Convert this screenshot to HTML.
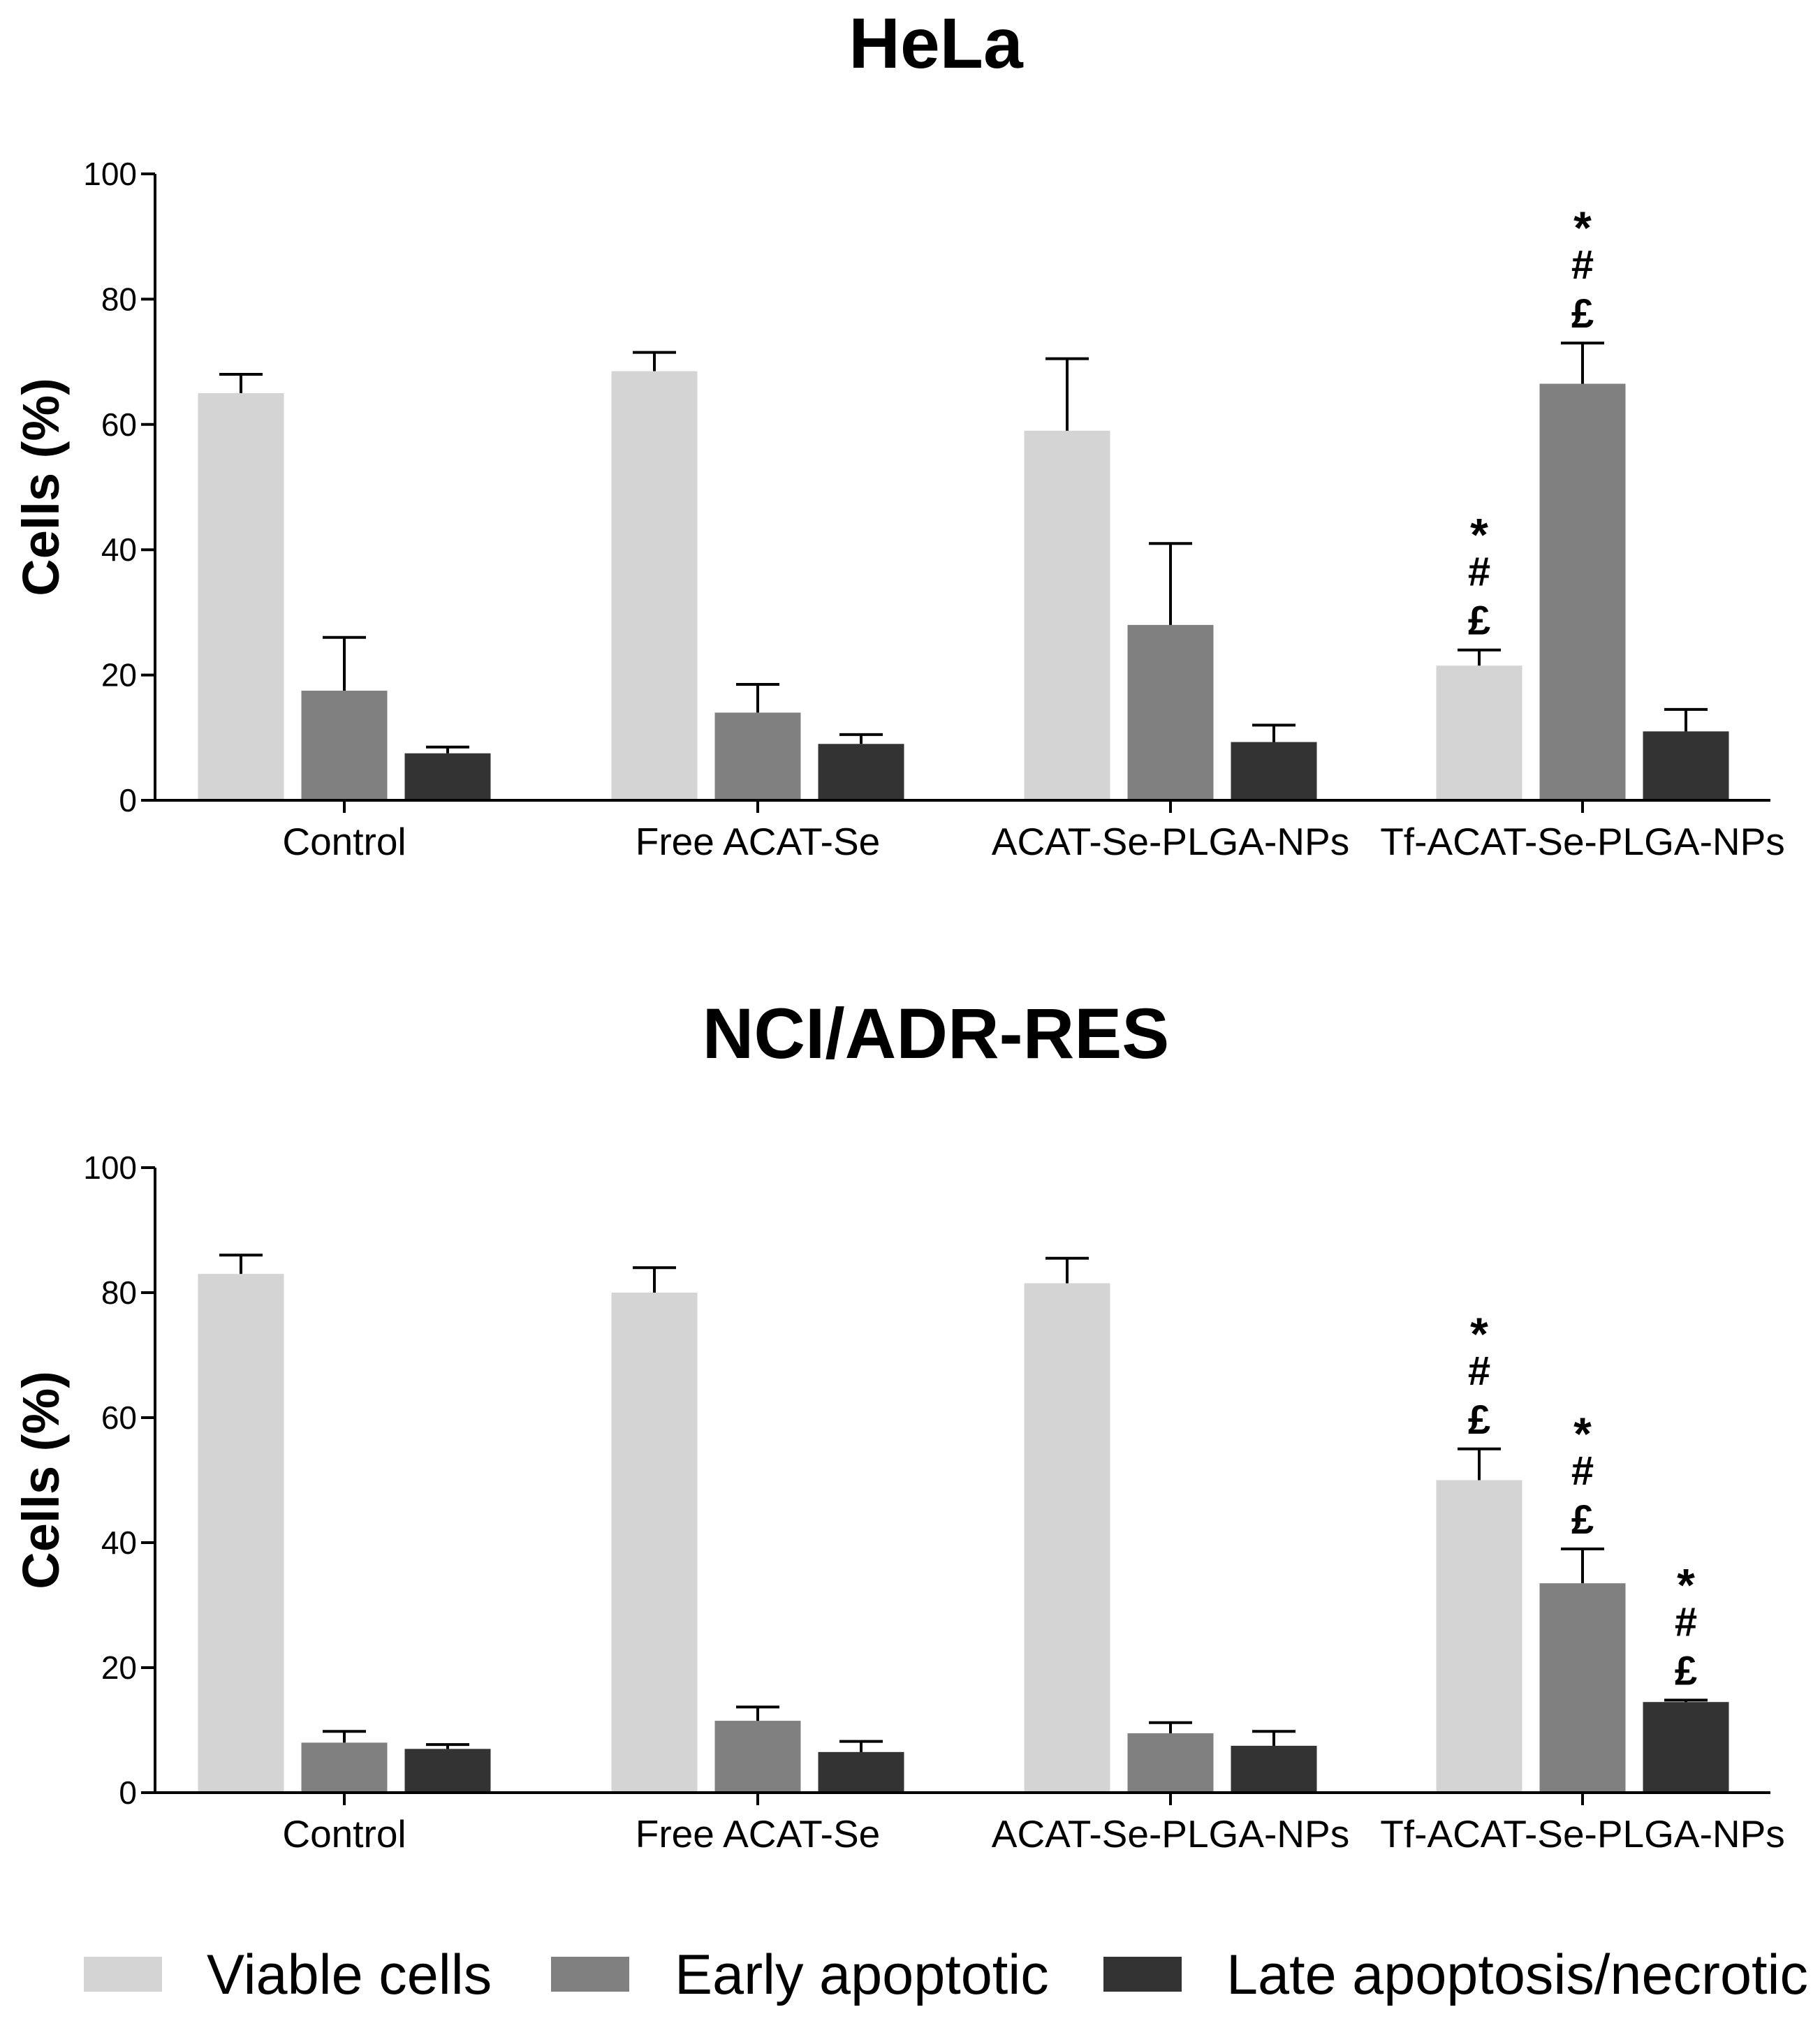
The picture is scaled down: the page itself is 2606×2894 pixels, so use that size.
<!DOCTYPE html>
<html><head><meta charset="utf-8"><style>html,body{margin:0;padding:0;background:#fff}svg{display:block}text{font-family:"Liberation Sans",Arial,sans-serif}</style></head>
<body>
<svg id="fig" width="2606" height="2894" viewBox="0 0 2606 2894" xmlns="http://www.w3.org/2000/svg"></svg>
<script>
const categories = ["Control","Free ACAT-Se","ACAT-Se-PLGA-NPs","Tf-ACAT-Se-PLGA-NPs"];
const seriesNames = ["Viable cells","Early apoptotic","Late apoptosis/necrotic"];
const yTicks = [0,20,40,60,80,100];
// HeLa
const helaViable = [65,68.5,59,21.5];
const helaViableErr = [3,3,11.5,2.5];
const helaEarly = [17.5,14,28,66.5];
const helaEarlyErr = [8.5,4.5,13,6.5];
const helaLate = [7.5,9,9.3,11];
const helaLateErr = [1,1.5,2.7,3.5];
const helaSig = [[0,0,0],[0,0,0],[0,0,0],[1,1,0]];
// NCI/ADR-RES
const nciViable = [83,80,81.5,50];
const nciViableErr = [3,4,4,5];
const nciEarly = [8,11.5,9.5,33.5];
const nciEarlyErr = [1.8,2.2,1.7,5.5];
const nciLate = [7,6.5,7.5,14.5];
const nciLateErr = [0.7,1.7,2.3,0.3];
const nciSig = [[0,0,0],[0,0,0],[0,0,0],[1,1,1]];

const colors = ["#d4d4d4","#808080","#333333"];
const NS = "http://www.w3.org/2000/svg";
const svg = document.getElementById("fig");
function mk(tag, attrs, parent, txt){
  const e = document.createElementNS(NS, tag);
  for (const k in attrs) e.setAttribute(k, attrs[k]);
  if (txt !== undefined) e.textContent = txt;
  (parent||svg).appendChild(e);
  return e;
}
const axL = 222, axR = 2535;
const groupX = [493,1085,1676,2266];
const barW = 123, offs = [-148,0,148];

function drawChart(id, title, titleY, yTop, yBot, vals, errs, sig, labelY){
  const g = mk("g",{});
  
  
  const yS = v => yBot - (v/100)*(yBot-yTop);
  const t = mk("text",{x:1340,y:titleY,"text-anchor":"middle","font-size":102,"font-weight":"bold",fill:"#000"},g,title);
  
  
  const yt = mk("text",{transform:`translate(84,${(yTop+yBot)/2}) rotate(-90)`,"text-anchor":"middle","font-size":74,"font-weight":"bold",fill:"#000"},g,"Cells (%)");
  
  
  yTicks.forEach(v=>{
    const y = yS(v);
    const tk = mk("line",{x1:axL-20,x2:axL,y1:y,y2:y,stroke:"#000","stroke-width":4},g);
    
    
    const tl = mk("text",{x:axL-26,y:y+16,"text-anchor":"end","font-size":46,fill:"#000"},g,String(v));
    
    
  });
  categories.forEach((c,i)=>{
    for(let s=0;s<3;s++){
      const cx = groupX[i]+offs[s];
      const v = vals[s][i], e = errs[s][i];
      const r = mk("rect",{x:cx-barW/2,y:yS(v),width:barW,height:yS(0)-yS(v),fill:colors[s]},g);
      
      
      const top = yS(v+e);
      const el = mk("path",{d:`M${cx},${yS(v)} V${top} M${cx-31},${top} H${cx+31}`,stroke:"#000","stroke-width":4,fill:"none"},g);
      
      
      if (sig[i][s]) {
        ["£","#","*"].forEach((sym,k)=>{
          const st = mk("text",{x:cx,y:top-22-k*70+(sym==="*"?20:0),"text-anchor":"middle","font-size":sym==="*"?66:58,"font-weight":"bold",fill:"#000"},g,sym);
          
          
        });
      }
    }
    const xt = mk("line",{x1:groupX[i],x2:groupX[i],y1:yBot,y2:yBot+18,stroke:"#000","stroke-width":4},g);
    
    
    const xl = mk("text",{x:groupX[i],y:labelY,"text-anchor":"middle","font-size":55,fill:"#000"},g,c);
    
    
  });
  const ax = mk("path",{d:`M${axL},${yTop} V${yBot} H${axR}`,stroke:"#000","stroke-width":4,fill:"none"},g);
  
  
}
drawChart("hela","HeLa",97,249,1146,[helaViable,helaEarly,helaLate],[helaViableErr,helaEarlyErr,helaLateErr],helaSig,1224);
drawChart("nci","NCI/ADR-RES",1515,1672,2567,[nciViable,nciEarly,nciLate],[nciViableErr,nciEarlyErr,nciLateErr],nciSig,2645);

const legX = [120,789,1580], legTX = [296,966,1756];
seriesNames.forEach((n,s)=>{
  const sw = mk("rect",{x:legX[s],y:2802,width:112,height:50,fill:colors[s]});
  
  
  const lt = mk("text",{x:legTX[s],y:2855,"font-size":81,fill:"#000"},svg,n);
  
  
});
</script>
</body></html>
